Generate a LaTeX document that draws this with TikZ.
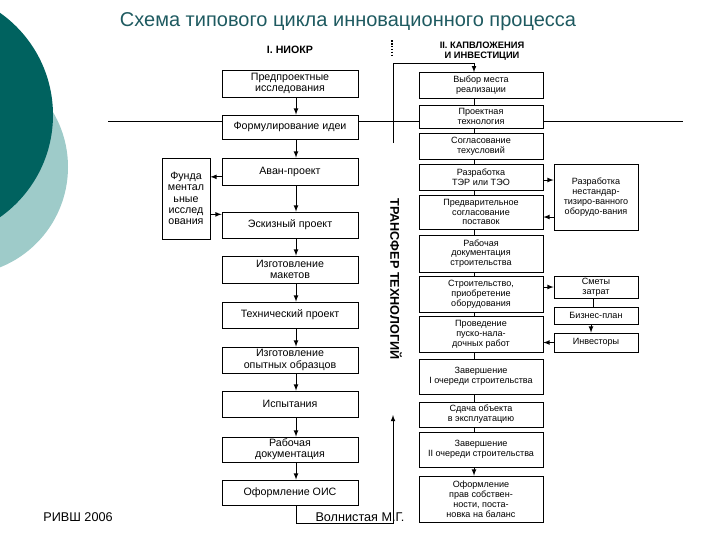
\documentclass[tikz,border=0pt]{standalone}
\usepackage{fontspec}
\setmainfont{Liberation Sans}
\usetikzlibrary{arrows}
\usetikzlibrary{calc}
\definecolor{DarkTeal}{HTML}{00625F}
\definecolor{LightTeal}{HTML}{9ECBC9}
\definecolor{TitleTeal}{HTML}{1E5A60}
\newcommand{\LeftText}{\fontsize{8}{8.4}\selectfont}
\newcommand{\RightText}{\fontsize{6.8}{7.4}\selectfont}
\tikzstyle{LeftBox}=[rectangle, draw=black, line width=0.6pt, minimum width=102pt, minimum height=19.5pt, inner sep=1pt, align=center, font=\LeftText]
\tikzstyle{RightBox}=[LeftBox, minimum width=93pt, font=\RightText]
\tikzstyle{SideBox}=[RightBox, minimum width=63pt]
\tikzstyle{FundBox}=[LeftBox, minimum width=36pt, minimum height=60.75pt]
\tikzstyle{LinkEdge}=[line width=0.6pt]
\tikzstyle{FlowEdge}=[LinkEdge, ->]
\tikzset{>=latex}

\begin{document}
\begin{tikzpicture}[x=0.75pt, y=-0.75pt]
\useasboundingbox (0,0) rectangle (720,540);
% background circles
\fill[LightTeal] (-40,167) circle[radius=108];
\fill[DarkTeal] (-72,115) circle[radius=125];

\node[font=\fontsize{15}{15}\selectfont, text=TitleTeal](Title) at (348,22) {Схема типового цикла инновационного процесса};
\node[font=\bfseries\fontsize{8}{8}\selectfont](StageOne) at (290,50) {I. НИОКР};
\node[font=\bfseries\fontsize{7}{8}\selectfont, align=center](StageTwo) at (482,51) {II. КАПВЛОЖЕНИЯ\\И ИНВЕСТИЦИИ};

% left column
\node[LeftBox, minimum height=20.25pt](PreProj) at (290,83.5) {Предпроектные\\исследования};
\node[LeftBox, minimum height=18pt](Idea) at (290,127) {Формулирование идеи};
\node[LeftBox, minimum height=20.25pt](Avan) at (290,171.5) {Аван-проект};
\node[LeftBox](Sketch) at (290,225) {Эскизный проект};
\node[LeftBox, minimum height=20.25pt](Mockup) at (290,269.5) {Изготовление\\макетов};
\node[LeftBox](TechProj) at (290,315) {Технический проект};
\node[LeftBox](Samples) at (290,360) {Изготовление\\опытных образцов};
\node[LeftBox](Tests) at (290,404) {Испытания};
\node[LeftBox, minimum height=18.75pt](WorkDoc) at (290,449.5) {Рабочая\\документация};
\node[LeftBox, minimum height=18.75pt](Patent) at (290,492.5) {Оформление ОИС};
\node[FundBox](Fund) at (186,198.5) {Фунда\\ментал\\ьные\\исслед\\ования};

% right column
\node[RightBox, minimum height=19pt](Site) at (481,85.25) {Выбор места\\реализации};
\node[RightBox, minimum height=17.25pt](ProjTech) at (481,116.5) {Проектная\\технология};
\node[RightBox](Specs) at (481,146) {Согласование\\техусловий};
\node[RightBox](Feasib) at (481,177) {Разработка\\ТЭР или ТЭО};
\node[RightBox, minimum height=25.5pt](Supply) at (481,212) {Предварительное\\согласование\\поставок};
\node[RightBox, minimum height=27.75pt](BuildDoc) at (481,253.5) {Рабочая\\документация\\строительства};
\node[RightBox, minimum height=27pt](Build) at (481,294) {Строительство,\\приобретение\\оборудования};
\node[RightBox, minimum height=27pt](Commission) at (481,334) {Проведение\\пуско-нала-\\дочных работ};
\node[RightBox, minimum height=26.25pt](StageI) at (481,376.5) {Завершение\\I очереди строительства};
\node[RightBox, minimum height=18.75pt](Handover) at (481,414.5) {Сдача объекта\\в эксплуатацию};
\node[RightBox, minimum height=26.25pt](StageII) at (481,449.5) {Завершение\\II очереди строительства};
\node[RightBox, minimum height=34.5pt](Ownership) at (481,499) {Оформление\\прав собствен-\\ности, поста-\\новка на баланс};

% side boxes
\node[SideBox, minimum height=49.5pt](Custom) at (596,197) {Разработка\\нестандар-\\тизиро-ванного\\оборудо-вания};
\node[SideBox, minimum height=16.5pt](Costs) at (596,287) {Сметы\\затрат};
\node[SideBox, minimum height=12.75pt](BizPlan) at (596,315.5) {Бизнес-план};
\node[SideBox, minimum height=14.25pt](Investors) at (596,342.5) {Инвесторы};

\node[rotate=-90, font=\bfseries\fontsize{9.5}{9.5}\selectfont](Transfer) at (396,279) {ТРАНСФЕР ТЕХНОЛОГИЙ};
\node[font=\fontsize{9.5}{9.5}\selectfont](Author) at (360,517) {Волнистая М.Г.};
\node[font=\fontsize{9.5}{9.5}\selectfont](School) at (78,517) {РИВШ 2006};

\coordinate(DotTop) at (392,40);
\coordinate(DotBottom) at (392,57);
\coordinate(FeedStart) at (393,143);
\coordinate(FeedCorner) at (393,63);
\coordinate(IdeaLineL) at (108,121);
\coordinate(IdeaLineR) at (683,121);
\coordinate(LoopCorner) at (393,523);
\coordinate(LoopEnd) at (393,415);

\draw[densely dotted, line width=1.2pt](DotTop) -- (DotBottom);
\draw[FlowEdge](FeedStart) -- (FeedCorner) -| ([xshift=-5.25pt]Site.north);
\draw[LinkEdge](IdeaLineL) -- (IdeaLineL -| Idea.west);
\draw[LinkEdge](IdeaLineL -| Idea.east) -- (IdeaLineL -| ProjTech.west);
\draw[LinkEdge](IdeaLineL -| ProjTech.east) -- (IdeaLineR);

\draw[FlowEdge]([xshift=4.5pt]PreProj.south) -- ([xshift=4.5pt]Idea.north);
\draw[FlowEdge]([xshift=4.5pt]Idea.south) -- ([xshift=4.5pt]Avan.north);
\draw[FlowEdge]([xshift=4.5pt]Avan.south) -- ([xshift=4.5pt]Sketch.north);
\draw[FlowEdge]([xshift=4.5pt]Sketch.south) -- ([xshift=4.5pt]Mockup.north);
\draw[FlowEdge]([xshift=4.5pt]Mockup.south) -- ([xshift=4.5pt]TechProj.north);
\draw[FlowEdge]([xshift=4.5pt]TechProj.south) -- ([xshift=4.5pt]Samples.north);
\draw[FlowEdge]([xshift=4.5pt]Samples.south) -- ([xshift=4.5pt]Tests.north);
\draw[FlowEdge]([xshift=4.5pt]Tests.south) -- ([xshift=4.5pt]WorkDoc.north);
\draw[FlowEdge]([xshift=4.5pt]WorkDoc.south) -- ([xshift=4.5pt]Patent.north);
\draw[FlowEdge]([xshift=4.5pt]Patent.south) |- (LoopCorner) -- (LoopEnd);

\draw[FlowEdge]([yshift=-4pt]Avan.west) -- ([yshift=-4pt]Avan.west -| Fund.east);
\draw[FlowEdge]([yshift=8pt]Sketch.west -| Fund.east) -- ([yshift=8pt]Sketch.west);

\draw[LinkEdge]([xshift=-5.25pt]Site.south) -- ([xshift=-5.25pt]ProjTech.north);
\draw[LinkEdge]([xshift=-5.25pt]ProjTech.south) -- ([xshift=-5.25pt]Specs.north);
\draw[LinkEdge]([xshift=-5.25pt]Specs.south) -- ([xshift=-5.25pt]Feasib.north);
\draw[LinkEdge]([xshift=-5.25pt]Feasib.south) -- ([xshift=-5.25pt]Supply.north);
\draw[LinkEdge]([xshift=-5.25pt]Supply.south) -- ([xshift=-5.25pt]BuildDoc.north);
\draw[LinkEdge]([xshift=-5.25pt]BuildDoc.south) -- ([xshift=-5.25pt]Build.north);
\draw[LinkEdge]([xshift=-5.25pt]Build.south) -- ([xshift=-5.25pt]Commission.north);
\draw[LinkEdge]([xshift=-5.25pt]Commission.south) -- ([xshift=-5.25pt]StageI.north);
\draw[LinkEdge]([xshift=-5.25pt]StageI.south) -- ([xshift=-5.25pt]Handover.north);
\draw[LinkEdge]([xshift=-5.25pt]Handover.south) -- ([xshift=-5.25pt]StageII.north);
\draw[FlowEdge]([xshift=-5.25pt]StageII.south) -- ([xshift=-5.25pt]Ownership.north);

\draw[FlowEdge]([yshift=-2.25pt]Feasib.east) -- ([yshift=-2.25pt]Feasib.east -| Custom.west);
\draw[FlowEdge]([yshift=-3.75pt]Supply.east -| Custom.west) -- ([yshift=-3.75pt]Supply.east);
\draw[FlowEdge](Costs.west -| Build.east) -- (Costs.west);
\draw[LinkEdge]([xshift=-2.25pt]Costs.south) -- ([xshift=-2.25pt]BizPlan.north);
\draw[FlowEdge]([xshift=-3.75pt]BizPlan.south) -- ([xshift=-3.75pt]Investors.north);
\draw[FlowEdge](Investors.west) -- (Investors.west -| Commission.east);
\end{tikzpicture}
\end{document}
